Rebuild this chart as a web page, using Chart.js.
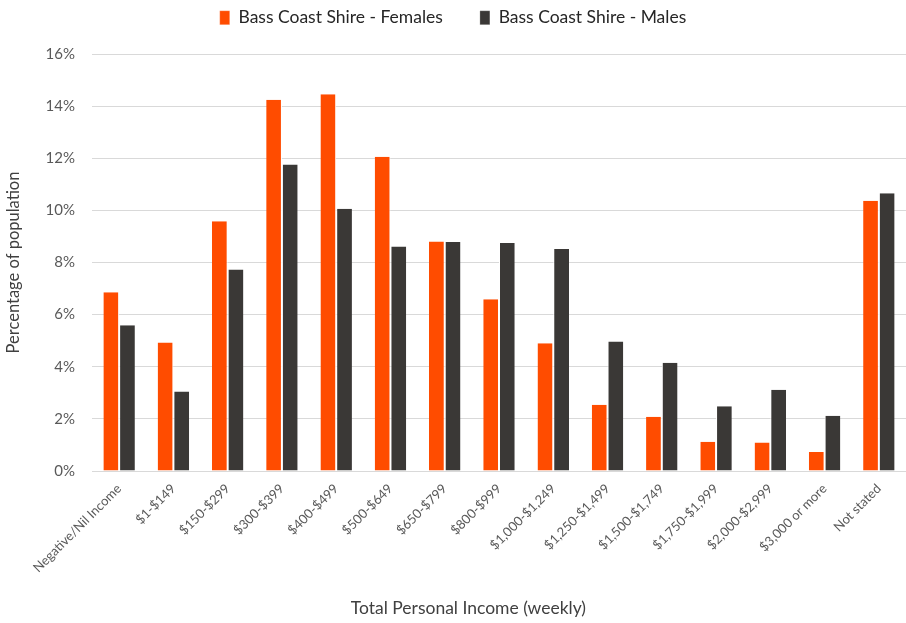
<!DOCTYPE html>
<html>
<head>
<meta charset="utf-8">
<title>Total Personal Income (weekly)</title>
<script src="https://cdn.jsdelivr.net/npm/chart.js@4/dist/chart.umd.min.js"></script>
<style>
    html, body { margin: 0; padding: 0; background: #fff; }
    #wrap { width: 906px; height: 623px; }
</style>
</head>
<body>
<div id="wrap"><canvas id="chart"></canvas></div>
<script>
    const categories = [
        'Negative/Nil Income', '$1-$149', '$150-$299', '$300-$399', '$400-$499',
        '$500-$649', '$650-$799', '$800-$999', '$1,000-$1,249', '$1,250-$1,499',
        '$1,500-$1,749', '$1,750-$1,999', '$2,000-$2,999', '$3,000 or more', 'Not stated'
    ];

    const females = [6.86, 4.93, 9.58, 14.24, 14.46, 12.06, 8.81, 6.59, 4.90, 2.54, 2.08, 1.12, 1.09, 0.73, 10.37];
    const males = [5.59, 3.05, 7.73, 11.76, 10.06, 8.61, 8.79, 8.75, 8.52, 4.97, 4.15, 2.48, 3.12, 2.12, 10.66];

    const yTicks = [0, 2, 4, 6, 8, 10, 12, 14, 16];

    const fontFamily = 'Lato, "Open Sans", sans-serif';

    // keep the legend row high up but leave room before the plot area
    const legendHeight = {
        id: 'legendHeight',
        beforeInit(chart) {
            const fit = chart.legend.fit;
            chart.legend.fit = function () {
                fit.call(this);
                this.height = 82;
            };
        }
    };

    new Chart(document.getElementById('chart'), {
        type: 'bar',
        data: {
            labels: categories,
            datasets: [{
                label: 'Bass Coast Shire - Females',
                data: females,
                backgroundColor: '#FF4C00',
                borderColor: '#ffffff',
                borderWidth: { left: 0, right: 1, top: 0, bottom: 0 },
                barPercentage: 1,
                categoryPercentage: 0.58
            }, {
                label: 'Bass Coast Shire - Males',
                data: males,
                backgroundColor: '#3A3836',
                borderColor: '#ffffff',
                borderWidth: { left: 1, right: 0, top: 0, bottom: 0 },
                barPercentage: 1,
                categoryPercentage: 0.58
            }]
        },
        plugins: [legendHeight],
        options: {
            responsive: true,
            maintainAspectRatio: false,
            animation: false,
            layout: { padding: { top: -28, right: 0, bottom: 0, left: 0 } },
            plugins: {
                legend: {
                    position: 'top',
                    labels: {
                        color: '#262626',
                        font: { family: fontFamily, size: 17.5 },
                        boxWidth: 10,
                        boxHeight: 14,
                        padding: 37
                    }
                },
                tooltip: { enabled: false }
            },
            scales: {
                x: {
                    grid: { display: false },
                    border: { color: '#d9d9d9' },
                    ticks: {
                        color: '#595959',
                        font: { family: fontFamily, size: 13 },
                        minRotation: 45,
                        maxRotation: 45,
                        autoSkip: false,
                        padding: 2
                    },
                    title: {
                        display: true,
                        text: 'Total Personal Income (weekly)\u2002\u2002\u2002\u2002\u2002\u2002\u2002',
                        color: '#404040',
                        font: { family: fontFamily, size: 17.5 },
                        padding: { top: 0, bottom: 4 }
                    },
                    afterFit: (scale) => { scale.height = 152; }
                },
                y: {
                    min: 0,
                    max: 16,
                    afterBuildTicks: (scale) => {
                        scale.ticks = yTicks.map(v => ({ value: v }));
                    },
                    grid: { color: '#d9d9d9', drawTicks: false },
                    border: { display: false },
                    ticks: {
                        color: '#595959',
                        font: { family: fontFamily, size: 15 },
                        padding: 17,
                        callback: (value) => `${ value }%`
                    },
                    title: {
                        display: true,
                        text: 'Percentage of population',
                        color: '#404040',
                        font: { family: fontFamily, size: 16.5 },
                        padding: { top: 4, bottom: 0 }
                    },
                    afterFit: (scale) => { scale.width = 92; }
                }
            }
        }
    });
</script>
</body>
</html>
